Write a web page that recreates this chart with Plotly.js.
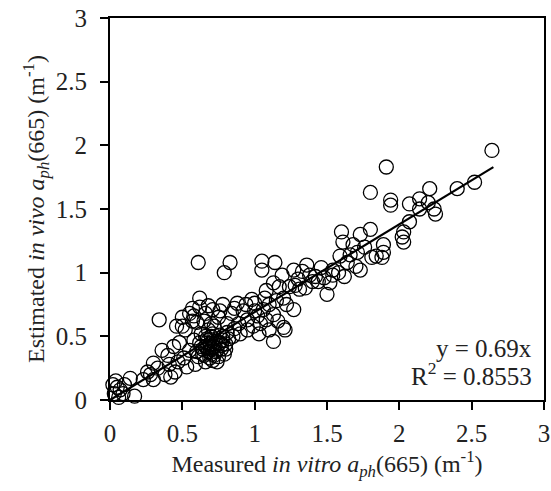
<!DOCTYPE html>
<html>
<head>
<meta charset="utf-8">
<script src="https://cdn.plot.ly/plotly-3.0.1.min.js"></script>
<style>html,body{margin:0;padding:0;background:#fff;}</style>
</head>
<body>
<div id="chart" style="width:551px;height:491px;"></div>
<script>
// Measured in vitro aph(665) (m^-1)
const measured = [
  0.02,0.03,0.05,0.07,0.09,0.10,0.14,0.17,0.06,0.04,
  0.23,0.26,0.30,0.30,0.28,0.34,0.36,0.38,0.41,0.44,0.45,0.46,0.48,0.50,0.51,0.53,0.55,0.55,0.59,0.62,0.50,0.40,0.42,0.33,0.47,0.52,0.57,0.57,0.60,
  0.62,0.64,0.65,0.66,0.67,0.68,0.69,0.70,0.70,0.71,0.72,0.73,0.74,0.75,0.76,0.77,0.78,0.63,0.60,0.66,0.80,0.81,0.85,0.68,0.72,0.58,0.61,0.74,0.79,0.67,0.71,
  0.64,0.68,0.70,0.66,0.72,0.75,0.78,0.80,0.76,0.73,0.69,0.63,0.77,0.82,0.71,
  0.61,0.62,0.71,0.78,0.88,0.98,0.81,0.89,0.95,0.75,0.84,0.92,0.65,0.70,0.86,0.90,0.95,0.99,0.83,0.79,0.66,
  0.58,0.68,0.76,0.86,0.94,1.00,
  1.05,1.05,1.14,1.19,1.13,1.17,1.07,1.06,1.13,1.08,1.20,1.13,1.21,1.02,1.04,1.10,1.15,1.00,1.10,1.16,1.24,1.20,1.22,1.03,1.08,
  1.27,1.27,1.31,1.33,1.36,1.40,1.44,1.46,1.50,1.54,1.54,1.30,1.38,1.28,1.35,1.42,1.48,1.52,
  1.59,1.60,1.61,1.62,1.64,1.71,1.73,1.73,1.80,1.81,1.84,1.88,1.89,1.89,1.80,1.91,1.94,1.94,1.66,1.76,1.70,1.58,1.68,
  2.03,2.03,2.07,2.07,2.14,2.14,2.21,2.24,2.25,2.40,2.52,2.64,2.20,2.02
];
// Estimated in vivo aph(665) (m^-1)
const estimated = [
  0.12,0.05,0.10,0.08,0.05,0.12,0.17,0.03,0.02,0.15,
  0.16,0.22,0.16,0.29,0.20,0.63,0.39,0.20,0.28,0.42,0.22,0.58,0.45,0.65,0.33,0.26,0.39,0.68,0.28,0.73,0.58,0.35,0.18,0.25,0.30,0.55,0.62,0.72,0.61,
  0.45,0.40,0.35,0.42,0.48,0.38,0.44,0.36,0.50,0.31,0.42,0.46,0.39,0.34,0.45,0.40,0.50,0.52,0.38,0.30,0.44,0.53,0.50,0.55,0.58,0.47,0.34,0.30,0.36,0.41,0.46,
  0.36,0.47,0.41,0.50,0.35,0.44,0.47,0.40,0.51,0.38,0.33,0.42,0.43,0.48,0.52,
  1.08,0.80,0.71,0.75,0.76,0.79,0.60,0.60,0.63,0.65,0.68,0.70,0.62,0.60,0.56,0.52,0.55,0.58,1.08,1.00,0.68,
  0.66,0.74,0.70,0.72,0.75,0.76,
  1.09,1.02,1.08,0.98,0.92,0.89,0.80,0.71,0.67,0.63,0.57,0.46,0.55,0.66,0.60,0.75,0.78,0.70,0.55,0.62,0.89,0.80,0.75,0.52,0.86,
  1.02,0.71,0.87,1.01,1.06,0.93,0.93,1.04,0.83,0.98,1.02,0.95,0.98,0.90,0.88,0.97,0.96,0.92,
  1.13,1.32,1.24,0.97,1.08,1.16,1.02,1.30,1.34,1.12,1.13,1.12,1.16,1.22,1.63,1.83,1.57,1.53,1.14,1.20,1.05,1.00,1.22,
  1.32,1.24,1.40,1.54,1.58,1.50,1.66,1.50,1.46,1.66,1.71,1.96,1.55,1.28
];
// Regression line y = 0.69x
const fitX = [0, 2.65];
const slope = 0.69;
const fitY = fitX.map(v => slope * v);
const tickVals = [0, 0.5, 1, 1.5, 2, 2.5, 3];
const tickText = ["0", "0.5", "1", "1.5", "2", "2.5", "3"];

const serif = "Liberation Serif, Times New Roman, serif";

const traces = [
  {
    x: measured, y: estimated, type: "scatter", mode: "markers",
    cliponaxis: false,
    marker: {symbol: "circle-open", size: 14, color: "#000", line: {width: 1.3, color: "#000"}},
    showlegend: false, hoverinfo: "x+y"
  },
  {
    x: fitX, y: fitY, type: "scatter", mode: "lines",
    line: {color: "#000", width: 2.2}, showlegend: false
  }
];

const axisBase = {
  range: [0, 3], tickvals: tickVals, ticktext: tickText,
  showgrid: false, zeroline: false, showline: true, mirror: true,
  linecolor: "#000", linewidth: 2, ticks: "outside", ticklen: 8, tickwidth: 2, tickcolor: "#000",
  tickfont: {family: serif, size: 25, color: "#222"}
};

const layout = {
  width: 551, height: 491,
  margin: {l: 110, r: 7, t: 18, b: 91},
  paper_bgcolor: "#fff", plot_bgcolor: "#fff",
  xaxis: Object.assign({}, axisBase, {
    ticklabelstandoff: 2,
    title: {text: "Measured <i>in vitro a</i><sub><i>ph</i></sub>(665) (m<sup>-1</sup>)",
            font: {family: serif, size: 24, color: "#222"}, standoff: 2}
  }),
  yaxis: Object.assign({}, axisBase, {
    ticklabelstandoff: 8,
    title: {text: "Estimated <i>in vivo a</i><sub><i>ph</i></sub>(665) (m<sup>-1</sup>)",
            font: {family: serif, size: 24, color: "#222"}, standoff: 4}
  }),
  annotations: [
    {xref: "paper", yref: "paper", x: 0.978, y: 0.136, xanchor: "right", yanchor: "middle",
     text: "y = 0.69x", showarrow: false, font: {family: serif, size: 25, color: "#222"}},
    {xref: "paper", yref: "paper", x: 0.978, y: 0.068, xanchor: "right", yanchor: "middle",
     text: "R<sup>2</sup> = 0.8553", showarrow: false, font: {family: serif, size: 25, color: "#222"}}
  ]
};

Plotly.newPlot("chart", traces, layout, {displayModeBar: false, staticPlot: true});
</script>
</body>
</html>
